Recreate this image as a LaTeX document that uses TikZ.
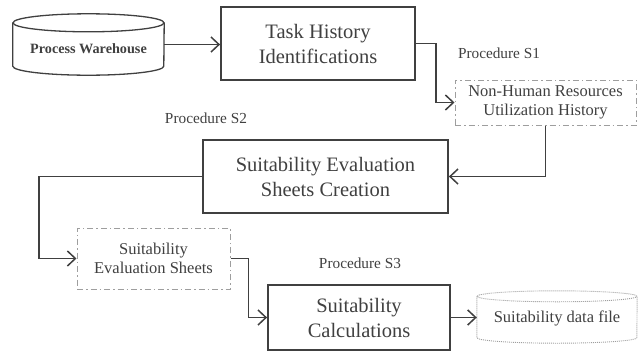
\documentclass[tikz,border=0pt]{standalone}
\usepackage{fontspec}
\setmainfont{Liberation Serif}
\newfontfamily\diagfont{Liberation Serif}
\usetikzlibrary{arrows.meta, calc, positioning}
\definecolor{boxgray}{rgb}{0.25, 0.25, 0.25}
\definecolor{dashgray}{rgb}{0.62, 0.62, 0.62}

\begin{document}
\begin{tikzpicture}[x=1pt, y=-1pt, every node/.style={text=boxgray, align=center},
        procbox/.style={draw=boxgray, line width=1.8pt, inner sep=0pt, font=\diagfont\fontsize{20.5}{25}\selectfont},
        docbox/.style={draw=dashgray, line width=1pt, inner sep=0pt, dash pattern=on 6pt off 3pt on 1.5pt off 3pt, font=\diagfont\fontsize{16.5}{19}\selectfont},
        stepname/.style={font=\diagfont\fontsize{15.3}{18}\selectfont},
        flow/.style={draw=boxgray, line width=1.5pt, -{Straight Barb[length=8pt, width=15pt]}}]
        \useasboundingbox (0,0) rectangle (638,354);
        \begin{scope}
            \node[minimum width=151, minimum height=61, inner sep=0pt, text height=21pt, text depth=3pt,
                font=\diagfont\bfseries\fontsize{14.2}{17}\selectfont] (pw) at (88.5,44.5) {Process Warehouse};
            \draw[boxgray, line width=1.3pt] ([yshift=-9pt]pw.north) ellipse [x radius=75.5pt, y radius=9pt];
            \draw[boxgray, line width=1.3pt] ([yshift=-9pt]pw.north west) -- ([yshift=9pt]pw.south west)
                arc[start angle=180, end angle=360, x radius=75.5pt, y radius=9pt] -- ([yshift=-9pt]pw.north east);

            \node[procbox, minimum width=194, minimum height=73] (task) at (318,43.5) {Task History\\Identifications};
            \node[stepname] (s1) at (499,53) {Procedure S1};
            \node[docbox, minimum width=181, minimum height=45] (nh) at (545.5,102.5) {Non-Human Resources\\Utilization History};

            \node[stepname] (s2) at (206,118) {Procedure S2};
            \node[procbox, minimum width=245, minimum height=73] (sesc) at (325.5,176.5) {Suitability Evaluation\\Sheets Creation};

            \node[docbox, minimum width=153, minimum height=61] (ses) at (153.5,258.5) {Suitability\\Evaluation Sheets};
            \node[stepname] (s3) at (360,263) {Procedure S3};
            \node[procbox, minimum width=182, minimum height=65] (calc) at (359,317.5) {Suitability\\Calculations};

            \node[minimum width=160, minimum height=52, inner sep=0pt, text height=14pt, text depth=3pt,
                font=\diagfont\fontsize{16.5}{19}\selectfont] (df) at (557,317) {Suitability data file};
            \draw[dashgray, line width=0.9pt, dash pattern=on 1pt off 1pt] ([yshift=-5.5pt]df.north) ellipse [x radius=80pt, y radius=5.5pt];
            \draw[dashgray, line width=0.9pt, dash pattern=on 1pt off 1pt] ([yshift=-5.5pt]df.north west) -- ([yshift=5.5pt]df.south west)
                arc[start angle=180, end angle=360, x radius=80pt, y radius=5.5pt] -- ([yshift=-5.5pt]df.north east);
        \end{scope}

        \draw[flow] (pw.east) -- (pw.east -| task.west);
        \draw[flow] (task.east) -- ++(20,0) |- (nh.west);
        \draw[flow] (nh.south) |- (sesc.east);
        \draw[flow] (sesc.west) -- ++(-163,0) |- (ses.west);
        \draw[flow] (ses.east) -- ++(18,0) |- (calc.west);
        \draw[flow] (calc.east) -- (calc.east -| df.west);
    \end{tikzpicture}
\end{document}
